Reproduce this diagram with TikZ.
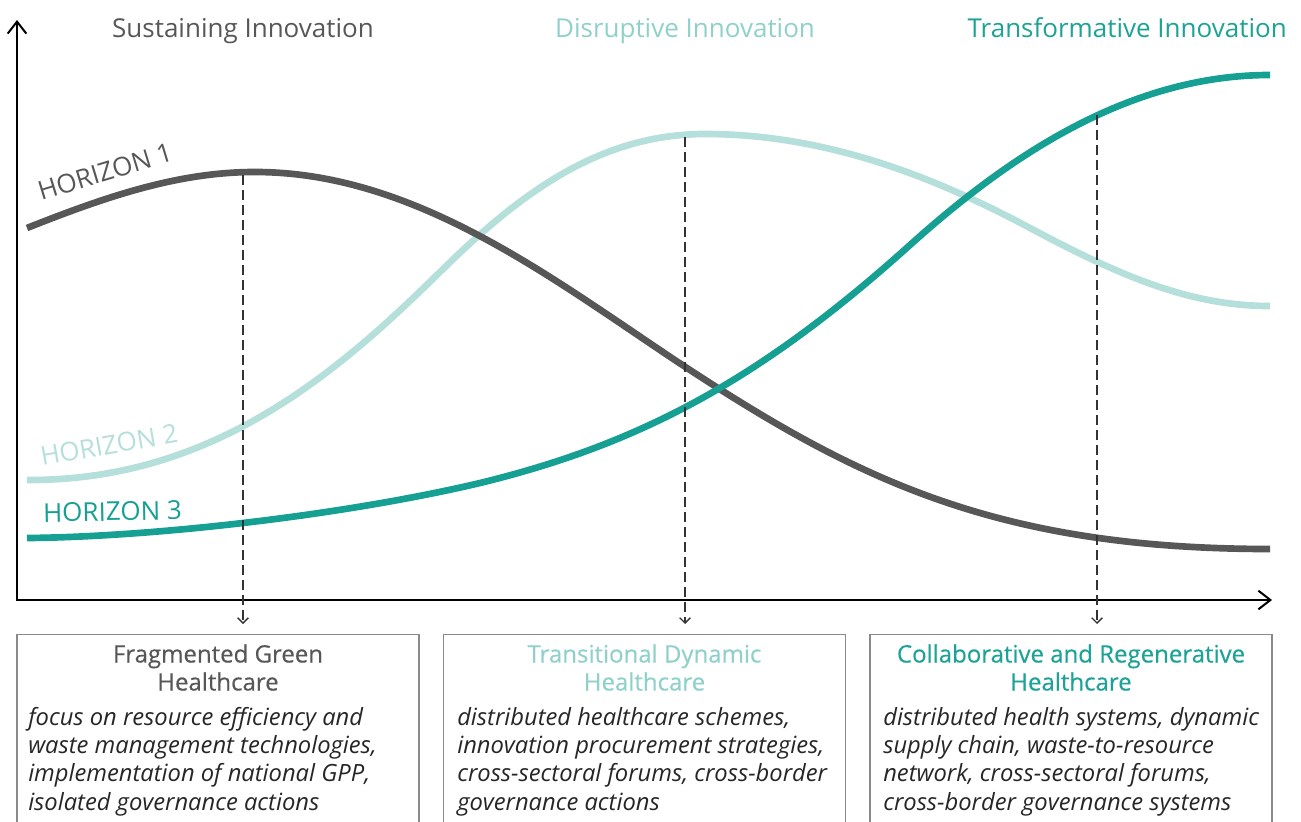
\documentclass[tikz,border=0pt]{standalone}
\usepackage{fontspec}
\setmainfont{Open Sans}
\newfontfamily\boxtitlefont[FakeBold=0.4]{Open Sans}
\usetikzlibrary{arrows.meta}
\definecolor{hone}{HTML}{575757}
\definecolor{htwo}{HTML}{B5DFDA}
\definecolor{hthree}{HTML}{16A093}
\definecolor{ttwo}{HTML}{8FD1CA}
\definecolor{tthree}{HTML}{1CA296}
\definecolor{boxline}{HTML}{8A8A8A}
\definecolor{dashcol}{HTML}{333333}
\begin{document}
\begin{tikzpicture}[x=0.75pt,y=-0.75pt,
  curve/.style={line width=5pt},
  axisline/.style={line width=1.5pt,{Straight Barb[length=9pt,width=14pt]}-{Straight Barb[length=9pt,width=14pt]}},
  guide/.style={line width=1pt,dashcol,dash pattern=on 7.5pt off 3.75pt,-{Straight Barb[length=4pt,width=8pt]}},
  toptitle/.style={font=\fontsize{19.5}{23}\selectfont,inner sep=0pt},
  hlabel/.style={font=\fontsize{19.5}{23}\selectfont,inner sep=0pt},
  panel/.style={draw=boxline,line width=1.1pt,minimum width=301.5pt,minimum height=170pt,inner sep=0pt,anchor=north},
  btitle/.style={font=\boxtitlefont\fontsize{18}{21}\selectfont,align=center,inner sep=0pt,anchor=north},
  bbody/.style={font=\fontsize{17.8}{21.2}\selectfont\itshape,align=left,inner sep=0pt,anchor=north west,text=black!85}
]
\useasboundingbox (0,0) rectangle (1301,821);
\clip (0,0) rectangle (1301,821);

% axes
\coordinate (ytip) at (17,20);
\coordinate (orig) at (17,600);
\coordinate (xtip) at (1272,600);
\draw[axisline] (ytip) -- (orig) -- (xtip);

% curves
\draw[curve,htwo] (27,480) .. controls (215,481) and (340,370) .. (440,272)
  .. controls (520,193) and (600,134) .. (705,134)
  .. controls (830,134) and (940,180) .. (1030,228)
  .. controls (1120,276) and (1190,306) .. (1270,306);
\draw[curve,hone] (27,228) .. controls (110,195) and (180,172) .. (255,172)
  .. controls (420,172) and (560,285) .. (690,370)
  .. controls (860,481) and (1000,549) .. (1270,549);
\draw[curve,hthree] (27,538) .. controls (150,537) and (340,516) .. (480,483)
  .. controls (640,444) and (760,380) .. (910,245)
  .. controls (1010,155) and (1130,75) .. (1270,75);

% guide lines
\coordinate (g1) at (243,175);
\coordinate (g2) at (685,137);
\coordinate (g3) at (1097,115);
\coordinate (e1) at (243,624);
\coordinate (e2) at (685,624);
\coordinate (e3) at (1097,624);
\draw[guide] (g1) -- (e1);
\draw[guide] (g2) -- (e2);
\draw[guide] (g3) -- (e3);

% top titles
\node[toptitle,text=hone,anchor=base] (t1) at (243,37) {Sustaining Innovation};
\node[toptitle,text=ttwo,anchor=base] (t2) at (685,37) {Disruptive Innovation};
\node[toptitle,text=tthree,anchor=base east] (t3) at (1287,37) {Transformative Innovation};

% horizon labels
\node[hlabel,text=hone,rotate=17,anchor=base west] (l1) at (41,201) {HORIZON 1};
\node[hlabel,text=htwo,rotate=10,anchor=base west] (l2) at (42,466) {HORIZON 2};
\node[hlabel,text=hthree,rotate=1,anchor=base west] (l3) at (43,522) {HORIZON 3};

% boxes
\node[panel] (b1) at (218,634) {};
\node[panel] (b2) at (644.5,634) {};
\node[panel] (b3) at (1071,634) {};

\node[btitle,text=hone] (bt1) at (218,644) {Fragmented Green\\Healthcare};
\node[btitle,text=ttwo] (bt2) at (644.5,644) {Transitional Dynamic\\Healthcare};
\node[btitle,text=tthree] (bt3) at (1071,644) {Collaborative and Regenerative\\Healthcare};

\node[bbody] (bb1) at (28,707) {focus on resource efficiency and\\waste management technologies,\\implementation of national GPP,\\isolated governance actions};
\node[bbody] (bb2) at (457,707) {distributed healthcare schemes,\\innovation procurement strategies,\\cross-sectoral forums, cross-border\\governance actions};
\node[bbody] (bb3) at (883,707) {distributed health systems, dynamic\\supply chain, waste-to-resource\\network, cross-sectoral forums,\\cross-border governance systems};
\end{tikzpicture}
\end{document}
